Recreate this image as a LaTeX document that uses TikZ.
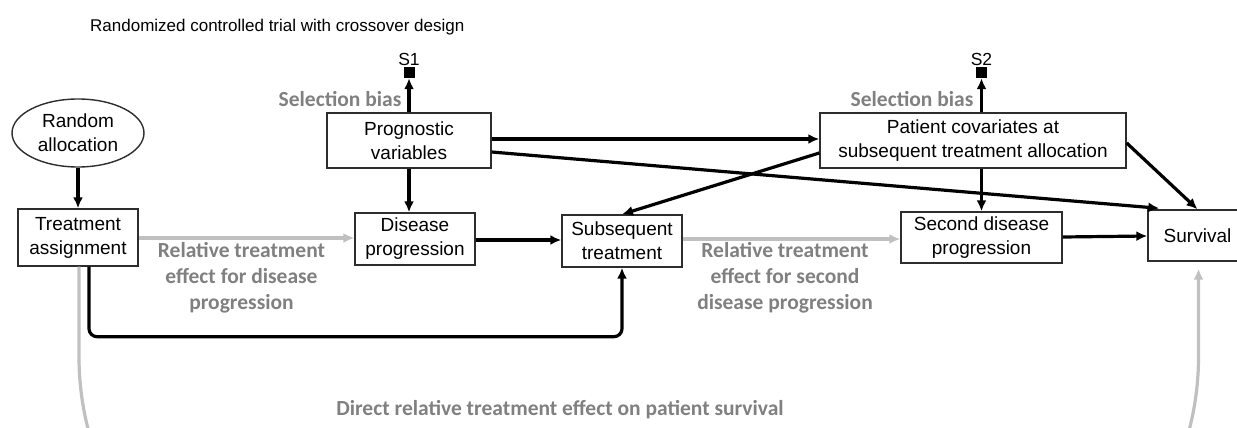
\documentclass[tikz,border=0pt]{standalone}
\usepackage{fontspec}
\setmainfont{Liberation Sans}
\newfontfamily\lblfont{Carlito}
\usetikzlibrary{arrows.meta,shapes.geometric,calc}
\definecolor{lblgray}{RGB}{128,128,128}
\definecolor{lngray}{RGB}{192,192,192}
\definecolor{bordergray}{RGB}{45,45,45}
\begin{document}
\begin{tikzpicture}[x=1pt,y=-1pt,
  txt/.style={font=\fontsize{19}{24}\selectfont,align=center,inner sep=0pt},
  box/.style={txt,draw=bordergray,line width=1.4pt},
  lbl/.style={font=\lblfont\bfseries\fontsize{21.5}{26}\selectfont,text=lblgray,align=center,inner sep=0pt},
  marker/.style={fill=black,minimum size=11pt,inner sep=0pt},
  arr/.style={line width=3.2pt,-{Latex[length=11pt,width=10pt]}},
  garr/.style={arr,draw=lngray}]
\useasboundingbox (0,0) rectangle (1237,428);
\clip (0,0) rectangle (1237,428);

\node[anchor=base west,inner sep=0pt,font=\fontsize{17}{20}\selectfont] (title) at (90,32) {Randomized controlled trial with crossover design};

\node[txt,ellipse,draw=bordergray,line width=1.4pt,minimum width=132pt,minimum height=68pt] (ra) at (78,133) {Random\\allocation};
\node[box,minimum width=120pt,minimum height=57pt] (ta) at (78,237.5) {Treatment\\assignment};
\node[box,minimum width=164pt,minimum height=55pt] (pv) at (409,140.5) {Prognostic\\variables};
\node[box,minimum width=120pt,minimum height=52pt] (dp) at (415,239) {Disease\\progression};
\node[box,minimum width=120pt,minimum height=52pt] (st) at (622,241) {Subsequent\\treatment};
\node[box,minimum width=306pt,minimum height=55pt] (pc) at (973,140.5) {Patient covariates at\\subsequent treatment allocation};
\node[box,minimum width=161pt,minimum height=51pt] (sd) at (981.5,237.5) {Second disease\\progression};
\node[box,minimum width=99pt,minimum height=51pt] (sv) at (1197.5,235.5) {Survival};

\node[marker] (s1) at (409,72.5) {};
\node[marker] (s2) at (981.5,72.5) {};
\node[txt,font=\fontsize{17.5}{20}\selectfont] (s1t) at (409,59) {S1};
\node[txt,font=\fontsize{17.5}{20}\selectfont] (s2t) at (981.5,59) {S2};

\node[lbl] (sb1) at (340,99) {Selection bias};
\node[lbl] (sb2) at (912,99) {Selection bias};
\node[lbl] (l1) at (241.5,278) {Relative treatment\\effect for disease\\progression};
\node[lbl] (l2) at (785,278) {Relative treatment\\effect for second\\disease progression};
\node[lbl] (l3) at (560,410) {Direct relative treatment effect on patient survival};

% connectors
\draw[arr] (ra.south) -- (ta.north);
\draw[garr] (ta.east |- 0,238) -- (dp.west |- 0,238);
\draw[arr] (dp.east |- 0,240) -- (st.west |- 0,240);
\draw[arr] (pv.north) -- (s1.south);
\draw[arr] (pv.south) -- (pv.south |- dp.north);
\draw[arr] (pv.east |- 0,139) -- (pc.west |- 0,139);
\draw[arr] (pv.east |- 0,152) -- ($(sv.north west)+(12,-1)$);
\draw[arr] (pc.west |- 0,153) -- (st.north);
\draw[arr] (pc.east |- 0,143) -- (sv.north);
\draw[arr] (sd.north |- pc.south) -- (sd.north);
\draw[arr] (s2.south |- pc.north) -- (s2.south);
\draw[garr] (st.east |- 0,239) -- (sd.west |- 0,239);
\draw[arr] (sd.east |- 0,237) -- (sv.west |- 0,236);
\draw[arr,rounded corners=8pt] ($(ta.south)+(11,0)$) |- ($(st.south)+(0,69)$) -- (st.south);
\draw[garr,rounded corners=290pt] ($(ta.south)+(1,0)$) -- ++(0,380) -| ($(sv.south)+(1,7)$);
\end{tikzpicture}
\end{document}
